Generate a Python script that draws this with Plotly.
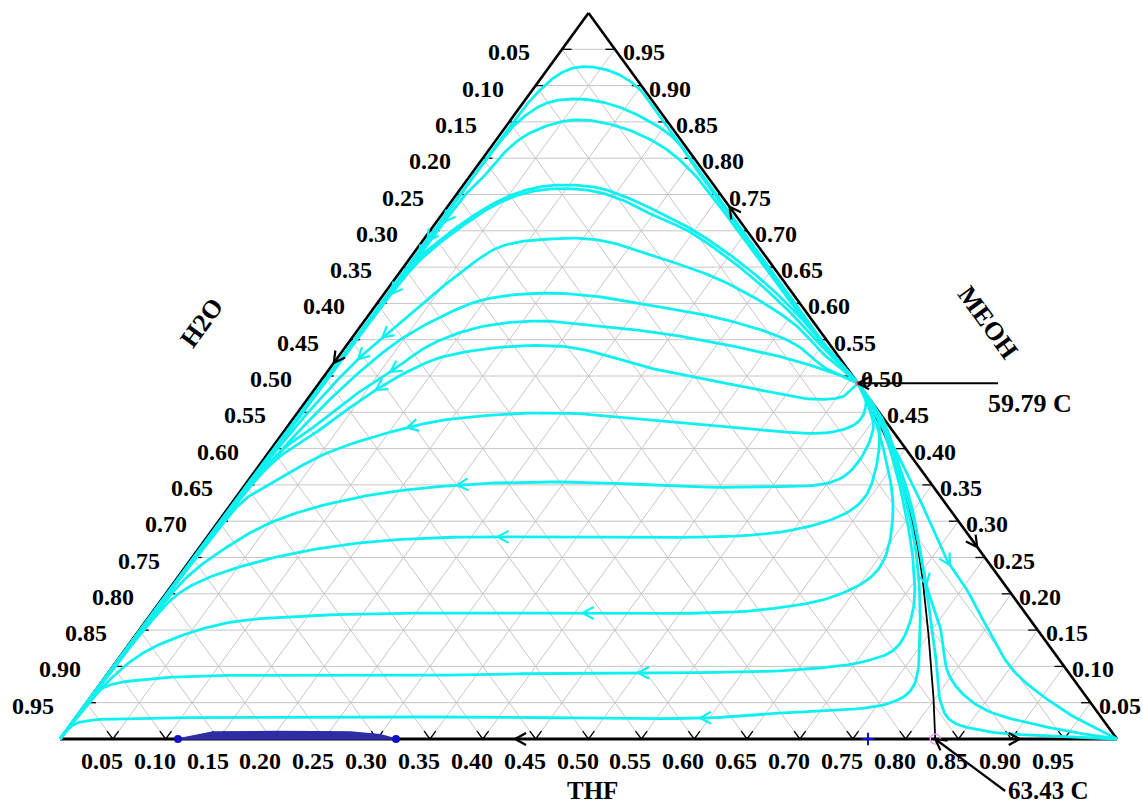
import numpy as np
import plotly.graph_objects as go

# ---------------- frame geometry (figure pixels) ----------------
FIG_W, FIG_H = 1143, 806
LEFT_PX, RIGHT_PX = 60, 1117      # H2O vertex / THF vertex
BASE_PX, APEX_PX = 739, 13        # base line / MEOH vertex
SX = RIGHT_PX - LEFT_PX           # pixels per unit of X
SY = BASE_PX - APEX_PX            # pixels per unit of MEOH

# ---------------- data: compositions are (THF, MEOH) mole fractions ----------------
tick_values = [round(0.05 * k, 2) for k in range(1, 20)]

azeo_top = (0.51, 0.49)      # MEOH-THF azeotrope
azeo_bottom = (0.828, 0.0)   # THF-H2O azeotrope
azeo_top_temp = 59.79
azeo_bottom_temp = 63.43

feed_thf = 0.7644
lle_thf = [0.1116, 0.125, 0.14, 0.20, 0.27, 0.30, 0.3179]
lle_meoh = [0.0, 0.005, 0.0096, 0.0103, 0.0096, 0.006, 0.0]

boundary_thf = [0.51, 0.5596, 0.6076, 0.6552, 0.6903, 0.7226, 0.7539, 0.7922, 0.828]
boundary_meoh = [0.49, 0.4325, 0.3705, 0.3017, 0.2466, 0.1915, 0.1364, 0.0675, 0.0]

# residue curves, each listed from the MEOH-THF azeotrope to its end node
rc01_thf = [0.51, 0.47, 0.40, 0.30, 0.20, 0.14, 0.0997, 0.0638, 0.0318, 0.0165, 0.0064, 0.004, 0.004, 0.003, 0.001, 0.0]
rc01_meoh = [0.49, 0.5255, 0.5955, 0.6955, 0.7955, 0.8555, 0.896, 0.9187, 0.926, 0.9187, 0.8898, 0.84, 0.60, 0.30, 0.08, 0.0]
rc02_thf = [0.51, 0.468, 0.398, 0.298, 0.22, 0.17, 0.129, 0.0866, 0.0512, 0.0227, 0.0089, 0.005, 0.005, 0.003, 0.001, 0.0]
rc02_meoh = [0.49, 0.526, 0.596, 0.696, 0.774, 0.825, 0.8526, 0.8733, 0.8815, 0.876, 0.8526, 0.82, 0.60, 0.30, 0.08, 0.0]
rc03_thf = [0.51, 0.43, 0.35, 0.26, 0.2091, 0.1628, 0.1083, 0.059, 0.0273, 0.0172, 0.0142, 0.009, 0.007, 0.004, 0.002, 0.0]
rc03_meoh = [0.49, 0.563, 0.642, 0.731, 0.7796, 0.8154, 0.843, 0.8526, 0.8347, 0.8113, 0.7796, 0.752, 0.65, 0.40, 0.15, 0.0]
rc04_thf = [0.51, 0.461, 0.411, 0.357, 0.303, 0.25, 0.2054, 0.1709, 0.13, 0.0893, 0.065, 0.045, 0.0276, 0.016, 0.0086, 0.005, 0.003, 0.001, 0.0]
rc04_meoh = [0.49, 0.535, 0.58, 0.625, 0.665, 0.70, 0.7245, 0.7424, 0.759, 0.763, 0.757, 0.742, 0.715, 0.687, 0.664, 0.60, 0.45, 0.20, 0.0]
rc05_thf = [0.51, 0.457, 0.406, 0.351, 0.297, 0.244, 0.203, 0.17, 0.13, 0.09, 0.064, 0.045, 0.03, 0.018, 0.01, 0.006, 0.003, 0.001, 0.0]
rc05_meoh = [0.49, 0.535, 0.58, 0.625, 0.665, 0.70, 0.72, 0.738, 0.754, 0.758, 0.752, 0.737, 0.712, 0.684, 0.655, 0.59, 0.45, 0.20, 0.0]
rc06_thf = [0.51, 0.4925, 0.46, 0.407, 0.317, 0.238, 0.167, 0.122, 0.0775, 0.0575, 0.045, 0.035, 0.022, 0.012, 0.006, 0.003, 0.001, 0.0]
rc06_meoh = [0.49, 0.504, 0.528, 0.573, 0.628, 0.662, 0.687, 0.689, 0.678, 0.642, 0.605, 0.573, 0.53, 0.47, 0.40, 0.30, 0.12, 0.0]
rc07_thf = [0.51, 0.47, 0.4207, 0.3425, 0.27, 0.20, 0.147, 0.098, 0.069, 0.047, 0.035, 0.022, 0.012, 0.004, 0.002, 0.0]
rc07_meoh = [0.49, 0.51, 0.5455, 0.577, 0.595, 0.61, 0.614, 0.605, 0.581, 0.55, 0.52, 0.47, 0.41, 0.33, 0.20, 0.0]
rc08_thf = [0.51, 0.496, 0.4325, 0.3597, 0.288, 0.20, 0.1662, 0.1136, 0.0787, 0.061, 0.045, 0.03, 0.012, 0.005, 0.002, 0.0]
rc08_meoh = [0.49, 0.4972, 0.522, 0.5427, 0.5592, 0.572, 0.5758, 0.5675, 0.5427, 0.508, 0.48, 0.44, 0.40, 0.34, 0.22, 0.0]
rc09_thf = [0.51, 0.505, 0.48, 0.422, 0.3135, 0.2024, 0.1045, 0.075, 0.05, 0.035, 0.012, 0.005, 0.002, 0.0]
rc09_meoh = [0.49, 0.472, 0.468, 0.481, 0.508, 0.541, 0.529, 0.505, 0.465, 0.43, 0.385, 0.33, 0.20, 0.0]
rc10_thf = [0.51, 0.529, 0.5372, 0.5198, 0.4161, 0.2485, 0.1574, 0.1162, 0.0556, 0.0269, 0.01, 0.005, 0.002, 0.0]
rc10_meoh = [0.49, 0.467, 0.4394, 0.4229, 0.4298, 0.449, 0.4421, 0.4298, 0.3939, 0.3567, 0.33, 0.28, 0.15, 0.0]
rc11_thf = [0.51, 0.5344, 0.5564, 0.5604, 0.4887, 0.296, 0.2035, 0.1172, 0.0545, 0.0258, 0.008, 0.004, 0.001, 0.0]
rc11_meoh = [0.49, 0.46, 0.4256, 0.3609, 0.3471, 0.354, 0.3499, 0.3333, 0.3017, 0.2645, 0.22, 0.16, 0.07, 0.0]
rc12_thf = [0.51, 0.5484, 0.5828, 0.5943, 0.5496, 0.3339, 0.2393, 0.1488, 0.08, 0.0304, 0.012, 0.005, 0.002, 0.0]
rc12_meoh = [0.49, 0.449, 0.3802, 0.3251, 0.2879, 0.2782, 0.2782, 0.27, 0.2507, 0.2231, 0.20, 0.16, 0.09, 0.0]
rc13_thf = [0.51, 0.527, 0.5775, 0.6324, 0.6573, 0.6402, 0.5734, 0.3862, 0.2916, 0.1672, 0.0781, 0.0359, 0.0163, 0.006, 0.002, 0.0]
rc13_meoh = [0.49, 0.471, 0.4022, 0.3113, 0.2369, 0.2011, 0.1777, 0.1736, 0.1736, 0.1708, 0.1598, 0.1364, 0.113, 0.08, 0.04, 0.0]
rc14_thf = [0.51, 0.5484, 0.596, 0.6417, 0.6837, 0.7182, 0.7286, 0.7119, 0.646, 0.4276, 0.3343, 0.1451, 0.0526, 0.0101, 0.0027, 0.0011, 0.0]
rc14_meoh = [0.49, 0.449, 0.3843, 0.3154, 0.2466, 0.1777, 0.1267, 0.1088, 0.095, 0.0909, 0.0882, 0.0882, 0.084, 0.0744, 0.0647, 0.0262, 0.0]
rc15_thf = [0.51, 0.5494, 0.5979, 0.6446, 0.6875, 0.7365, 0.7712, 0.7604, 0.6633, 0.5939, 0.3633, 0.0802, 0.0181, 0.0051, 0.0004, 0.0]
rc15_meoh = [0.49, 0.449, 0.3843, 0.3154, 0.2466, 0.1543, 0.0716, 0.0496, 0.0358, 0.0289, 0.0303, 0.0289, 0.0262, 0.022, 0.0124, 0.0]
rc16_thf = [0.51, 0.5589, 0.6192, 0.6747, 0.7254, 0.7744, 0.8057, 0.8289, 0.8696, 0.9346, 1.0]
rc16_meoh = [0.49, 0.4394, 0.3567, 0.2741, 0.1915, 0.1088, 0.0537, 0.0262, 0.011, 0.0041, 0.0]
rc17_thf = [0.51, 0.5677, 0.6396, 0.7155, 0.7554, 0.7993, 0.8484, 0.9256, 1.0]
rc17_meoh = [0.49, 0.4256, 0.3292, 0.2094, 0.1543, 0.0854, 0.0441, 0.0165, 0.0]
rc18_thf = [0.51, 0.5794, 0.649, 0.7159, 0.7555, 0.7998, 0.8541, 0.929, 1.0]
rc18_meoh = [0.49, 0.4118, 0.3292, 0.2466, 0.2052, 0.1543, 0.095, 0.0399, 0.0]

residue_curves = [
    (rc01_thf, rc01_meoh), (rc02_thf, rc02_meoh), (rc03_thf, rc03_meoh),
    (rc04_thf, rc04_meoh), (rc05_thf, rc05_meoh), (rc06_thf, rc06_meoh),
    (rc07_thf, rc07_meoh), (rc08_thf, rc08_meoh), (rc09_thf, rc09_meoh),
    (rc10_thf, rc10_meoh), (rc11_thf, rc11_meoh), (rc12_thf, rc12_meoh),
    (rc13_thf, rc13_meoh), (rc14_thf, rc14_meoh), (rc15_thf, rc15_meoh),
    (rc16_thf, rc16_meoh), (rc17_thf, rc17_meoh), (rc18_thf, rc18_meoh),
]

# direction markers on the residue curves (THF, MEOH)
curve_arrow_thf = [0.004, 0.005, 0.006, 0.012, 0.0197, 0.0236, 0.0649, 0.0596, 0.1162,
                   0.2014, 0.2772, 0.4118, 0.5141, 0.5939, 0.713, 0.7189]
curve_arrow_meoh = [0.72, 0.69, 0.667, 0.614, 0.5661, 0.5262, 0.5041, 0.4807, 0.4298,
                    0.3485, 0.2782, 0.1736, 0.0882, 0.0289, 0.2163, 0.2424]

# direction markers on the binary edges: position (THF, MEOH) and the vertex they point to
edge_arrow_thf = [0.4305, 0.908, 0.7355, 0.267, 0.0]
edge_arrow_meoh = [0.0, 0.0, 0.2645, 0.733, 0.518]
edge_arrow_to = ["H2O", "THF", "THF", "MEOH", "H2O"]

VERTEX = {"H2O": (0.0, 0.0), "THF": (1.0, 0.0), "MEOH": (0.0, 1.0)}

CYAN = "#0FF0F0"
GRID = "#c6c6c6"
FONT = "Liberation Serif"


def to_xy(thf, meoh):
    thf = np.asarray(thf, float)
    meoh = np.asarray(meoh, float)
    return thf + meoh / 2.0, meoh


def catmull_rom(P, n=14):
    P = np.vstack([2 * P[0] - P[1], P, 2 * P[-1] - P[-2]])
    out = []
    for i in range(len(P) - 3):
        p0, p1, p2, p3 = P[i:i + 4]
        t0 = 0.0
        t1 = t0 + max(np.linalg.norm(p1 - p0), 1e-9) ** 0.5
        t2 = t1 + max(np.linalg.norm(p2 - p1), 1e-9) ** 0.5
        t3 = t2 + max(np.linalg.norm(p3 - p2), 1e-9) ** 0.5
        t = np.linspace(t1, t2, n, endpoint=False)[:, None]
        a1 = (t1 - t) / (t1 - t0) * p0 + (t - t0) / (t1 - t0) * p1
        a2 = (t2 - t) / (t2 - t1) * p1 + (t - t1) / (t2 - t1) * p2
        a3 = (t3 - t) / (t3 - t2) * p2 + (t - t2) / (t3 - t2) * p3
        b1 = (t2 - t) / (t2 - t0) * a1 + (t - t0) / (t2 - t0) * a2
        b2 = (t3 - t) / (t3 - t1) * a2 + (t - t1) / (t3 - t1) * a3
        out.append((t2 - t) / (t2 - t1) * b1 + (t - t1) / (t2 - t1) * b2)
    out.append(P[-2][None, :])
    return np.vstack(out)


def smooth(thf, meoh):
    X, Y = to_xy(thf, meoh)
    return catmull_rom(np.column_stack([X * SX, Y * SY]))  # pixel-scaled (y up)


def chevron(head_px, d, length=11.0, half=6.0):
    d = np.asarray(d, float)
    d = d / np.linalg.norm(d)
    nrm = np.array([-d[1], d[0]])
    a = head_px - length * d + half * nrm
    b = head_px - length * d - half * nrm
    pts = [a, head_px, b]
    return [p[0] / SX for p in pts] + [None], [p[1] / SY for p in pts] + [None]


def seg_trace(segs, color, width):
    xs, ys = [], []
    for (t0, m0), (t1, m1) in segs:
        xa, ya = to_xy([t0, t1], [m0, m1])
        xs += list(xa) + [None]
        ys += list(ya) + [None]
    return go.Scatter(x=xs, y=ys, mode="lines", line=dict(color=color, width=width),
                      hoverinfo="skip", showlegend=False)


fig = go.Figure()

# grid lines every 0.05 in the three directions
grid = []
for v in tick_values:
    grid.append(((0.0, v), (1.0 - v, v)))
    grid.append(((v, 0.0), (v, 1.0 - v)))
    grid.append(((1.0 - v, 0.0), (0.0, 1.0 - v)))
fig.add_trace(seg_trace(grid, GRID, 1))

# tick marks on the edges
ticks = []
for v in tick_values:
    ticks.append(((0.0, v), (0.009, v)))
    ticks.append(((1.0 - v, v), (1.0 - v - 0.009, v)))
    ticks.append(((v, 0.0), (v, 0.011)))
    ticks.append(((v, 0.0), (v - 0.011, 0.011)))
fig.add_trace(seg_trace(ticks, "black", 1.3))

# distillation boundary
bq = smooth(boundary_thf, boundary_meoh)
fig.add_trace(go.Scatter(x=bq[:, 0] / SX, y=bq[:, 1] / SY, mode="lines",
                         line=dict(color="black", width=1.8), hoverinfo="skip", showlegend=False))

# triangle edges
fig.add_trace(seg_trace([((0, 0), (0, 1)), ((0, 1), (1, 0))], "black", 2.6))
fig.add_trace(seg_trace([((0, 0), (1, 0))], "black", 3))

# residue curves
dense = []
for thf, meoh in residue_curves:
    Q = smooth(thf, meoh)
    dense.append(Q)
    fig.add_trace(go.Scatter(x=Q[:, 0] / SX, y=Q[:, 1] / SY, mode="lines",
                             line=dict(color=CYAN, width=2.8), hoverinfo="skip", showlegend=False))

# arrowheads on the residue curves
ax_, ay_ = [], []
for t, m in zip(curve_arrow_thf, curve_arrow_meoh):
    X, Y = to_xy(t, m)
    target = np.array([X * SX, Y * SY])
    best = None
    for Q in dense:
        dist = np.linalg.norm(Q - target, axis=1)
        i = int(np.argmin(dist))
        if best is None or dist[i] < best[0]:
            best = (dist[i], Q, i)
    _, Q, i = best
    i = min(max(i, 1), len(Q) - 2)
    d = Q[i + 1] - Q[i - 1]
    cx, cy = chevron(Q[i] + 3 * d / np.linalg.norm(d), d)
    ax_ += cx
    ay_ += cy
fig.add_trace(go.Scatter(x=ax_, y=ay_, mode="lines", line=dict(color=CYAN, width=2.2),
                         hoverinfo="skip", showlegend=False))

# arrowheads on the binary edges
ex, ey = [], []
for t, m, to in zip(edge_arrow_thf, edge_arrow_meoh, edge_arrow_to):
    X, Y = to_xy(t, m)
    VX, VY = to_xy(*VERTEX[to])
    p = np.array([X * SX, Y * SY])
    d = np.array([VX * SX, VY * SY]) - p
    cx, cy = chevron(p, d, length=11, half=6)
    ex += cx
    ey += cy
fig.add_trace(go.Scatter(x=ex, y=ey, mode="lines", line=dict(color="black", width=2.2),
                         hoverinfo="skip", showlegend=False))

# liquid-liquid region on the H2O-THF edge
lx, ly = to_xy(lle_thf, lle_meoh)
fig.add_trace(go.Scatter(x=list(lx) + [lx[0]], y=list(ly) + [ly[0]], mode="lines", fill="toself",
                         fillcolor="#2d2da6", line=dict(color="#2d2da6", width=1.5),
                         hoverinfo="skip", showlegend=False))
fig.add_trace(go.Scatter(x=[lx[0], lx[-1]], y=[ly[0], ly[-1]], mode="markers",
                         marker=dict(color="#1010c8", size=8), hoverinfo="skip", showlegend=False))

# feed point and azeotrope markers
fx, fy = to_xy(feed_thf, 0.0)
fig.add_trace(go.Scatter(x=[fx], y=[fy], mode="markers",
                         marker=dict(symbol="cross-thin", size=9, line=dict(color="#1010d0", width=2)),
                         hoverinfo="skip", showlegend=False))
a2x, a2y = to_xy(*azeo_bottom)
fig.add_trace(go.Scatter(x=[a2x], y=[a2y], mode="markers",
                         marker=dict(symbol="circle-open", size=10, line=dict(color="#e07080", width=1.5)),
                         hoverinfo="skip", showlegend=False))
a1x, a1y = to_xy(*azeo_top)
fig.add_trace(go.Scatter(x=[a1x], y=[a1y], mode="markers",
                         marker=dict(size=5, color="#e07090"), hoverinfo="skip", showlegend=False))

# temperature call-outs
lead_x, lead_y = [], []
for (ax0, ay0), (dx, dy) in [((a1x, a1y), (140, 0)), ((a2x, a2y), (70, -52))]:
    head = np.array([ax0 * SX, ay0 * SY])
    tail = head + np.array([dx, dy])
    lead_x += [tail[0] / SX, head[0] / SX, None]
    lead_y += [tail[1] / SY, head[1] / SY, None]
    cx, cy = chevron(head, head - tail, length=11, half=6)
    lead_x += cx
    lead_y += cy
fig.add_trace(go.Scatter(x=lead_x, y=lead_y, mode="lines", line=dict(color="black", width=2.2),
                         hoverinfo="skip", showlegend=False))

annotations = []
lab_font = dict(family=FONT, size=24, color="black", weight="bold")
for v in tick_values:
    m = v
    # H2O scale on the left edge
    X, Y = to_xy(0.0, m)
    annotations.append(dict(x=float(X), y=float(Y), xref="x", yref="y", text=f"{1 - m:.2f}",
                            showarrow=False, xanchor="right", yanchor="middle",
                            xshift=-30, yshift=-3, font=lab_font))
    # MEOH scale on the right edge
    X, Y = to_xy(1.0 - m, m)
    annotations.append(dict(x=float(X), y=float(Y), xref="x", yref="y", text=f"{m:.2f}",
                            showarrow=False, xanchor="left", yanchor="middle",
                            xshift=6, yshift=-3, font=lab_font))
    # THF scale on the base
    X, Y = to_xy(v, 0.0)
    annotations.append(dict(x=float(X), y=float(Y), xref="x", yref="y", text=f"{v:.2f}",
                            showarrow=False, xanchor="center", yanchor="middle",
                            xshift=-11, yshift=-22, font=lab_font))

title_font = dict(family=FONT, size=26, color="black", weight="bold")
small_title = dict(family=FONT, size=25, color="black", weight="bold")
annotations += [
    dict(x=0.1334, y=0.573, xref="x", yref="y", text="H2O", showarrow=False, textangle=-54,
         font=title_font),
    dict(x=0.878, y=0.574, xref="x", yref="y", text="MEOH", showarrow=False, textangle=54,
         font=title_font),
    dict(x=0.504, y=-0.0705, xref="x", yref="y", text="THF", showarrow=False, font=small_title),
    dict(x=float(a1x), y=float(a1y), xref="x", yref="y", text=f"{azeo_top_temp:.2f} C",
         showarrow=False, xshift=172, yshift=-20, font=title_font),
    dict(x=float(a2x), y=float(a2y), xref="x", yref="y", text=f"{azeo_bottom_temp:.2f} C",
         showarrow=False, xshift=113, yshift=-51, font=small_title),
]

fig.update_layout(
    width=FIG_W, height=FIG_H, autosize=False,
    margin=dict(l=0, r=0, t=0, b=0),
    paper_bgcolor="white", plot_bgcolor="white",
    xaxis=dict(range=[-LEFT_PX / SX, (FIG_W - LEFT_PX) / SX], visible=False, fixedrange=True),
    yaxis=dict(range=[-(FIG_H - BASE_PX) / SY, BASE_PX / SY], visible=False, fixedrange=True),
    annotations=annotations,
    showlegend=False,
)

fig.write_html("out.html")
